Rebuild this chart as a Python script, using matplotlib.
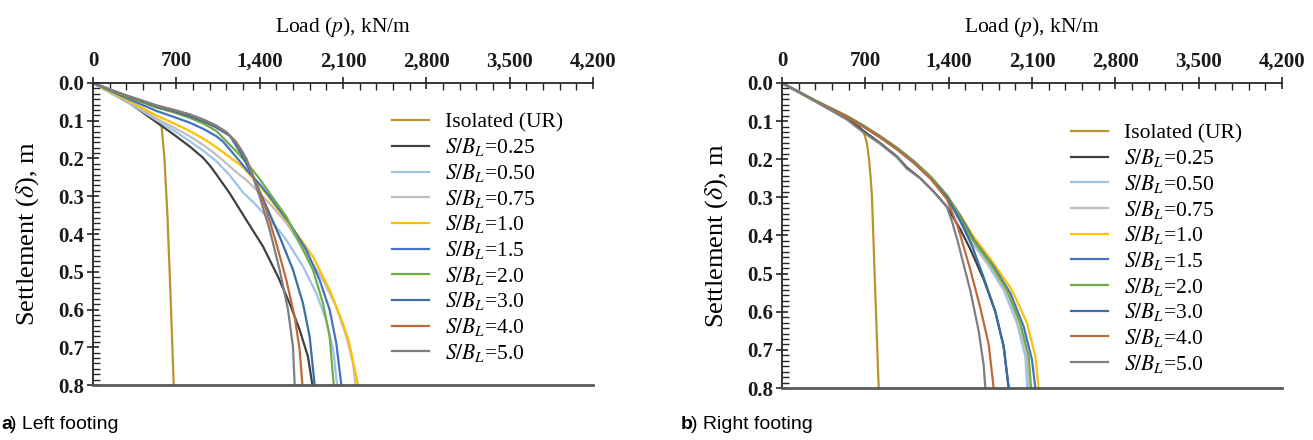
import matplotlib
matplotlib.use("Agg")
import matplotlib.pyplot as plt
from matplotlib.ticker import FuncFormatter, AutoMinorLocator

plt.rcParams['font.family'] = ['Liberation Serif', 'DejaVu Serif']
plt.rcParams['mathtext.fontset'] = 'stix'

labels = ['Isolated (UR)', '$S/B_L$=0.25', '$S/B_L$=0.50', '$S/B_L$=0.75',
          '$S/B_L$=1.0', '$S/B_L$=1.5', '$S/B_L$=2.0', '$S/B_L$=3.0',
          '$S/B_L$=4.0', '$S/B_L$=5.0']
colors = ['#B8952A', '#404040', '#9DC3E6', '#BFBFBF', '#FFC000',
          '#4472C4', '#70AD47', '#3A6EA5', '#C0693A', '#7F7F7F']

# left footing: load p (kN/m), settlement d (m)
left_p = [
    [0, 100, 200, 300, 400, 500, 575, 600, 625, 650, 678],
    [0, 100, 200, 300, 392, 480, 560, 672, 812, 924, 980, 1036, 1148, 1288, 1428, 1554, 1652, 1736, 1806, 1843],
    [0, 100, 300, 532, 680, 812, 930, 1036, 1150, 1260, 1360, 1456, 1544, 1624, 1764, 1876, 1960, 2020, 2050],
    [0, 100, 300, 532, 680, 812, 930, 1036, 1092, 1200, 1290, 1372, 1500, 1624, 1792, 1932, 2044, 2128, 2184, 2205],
    [0, 100, 308, 532, 680, 812, 930, 1036, 1150, 1250, 1372, 1460, 1540, 1708, 1848, 1988, 2100, 2150, 2184, 2226],
    [0, 100, 252, 400, 532, 680, 812, 930, 1036, 1092, 1200, 1316, 1400, 1484, 1652, 1792, 1904, 1988, 2044, 2086],
    [0, 100, 252, 400, 532, 680, 812, 930, 1036, 1092, 1200, 1316, 1400, 1484, 1624, 1736, 1848, 1932, 1988, 2022],
    [0, 100, 252, 400, 532, 680, 812, 930, 1036, 1150, 1250, 1344, 1456, 1568, 1680, 1764, 1820, 1862],
    [0, 100, 252, 400, 532, 680, 812, 930, 1036, 1120, 1200, 1260, 1320, 1372, 1456, 1540, 1624, 1694, 1736, 1759],
    [0, 100, 252, 400, 532, 680, 812, 930, 1036, 1120, 1200, 1288, 1340, 1400, 1484, 1568, 1638, 1680, 1694],
]
left_d = [
    [0, 0.017, 0.034, 0.051, 0.068, 0.088, 0.11, 0.2, 0.35, 0.55, 0.8],
    [0, 0.017, 0.035, 0.052, 0.072, 0.092, 0.110, 0.135, 0.168, 0.198, 0.218, 0.242, 0.292, 0.363, 0.433, 0.513, 0.584, 0.654, 0.725, 0.80],
    [0, 0.018, 0.052, 0.098, 0.126, 0.154, 0.180, 0.207, 0.245, 0.290, 0.320, 0.354, 0.383, 0.416, 0.486, 0.557, 0.630, 0.710, 0.80],
    [0, 0.017, 0.050, 0.094, 0.118, 0.141, 0.165, 0.190, 0.205, 0.235, 0.258, 0.283, 0.325, 0.371, 0.451, 0.522, 0.593, 0.672, 0.743, 0.80],
    [0, 0.016, 0.048, 0.086, 0.107, 0.127, 0.148, 0.170, 0.197, 0.220, 0.262, 0.295, 0.330, 0.398, 0.460, 0.548, 0.637, 0.685, 0.735, 0.80],
    [0, 0.014, 0.036, 0.056, 0.074, 0.090, 0.105, 0.122, 0.141, 0.155, 0.195, 0.239, 0.268, 0.301, 0.372, 0.442, 0.522, 0.601, 0.690, 0.80],
    [0, 0.013, 0.033, 0.050, 0.065, 0.078, 0.092, 0.108, 0.127, 0.145, 0.180, 0.221, 0.254, 0.292, 0.354, 0.424, 0.495, 0.584, 0.672, 0.80],
    [0, 0.012, 0.031, 0.047, 0.062, 0.075, 0.088, 0.102, 0.118, 0.140, 0.190, 0.248, 0.327, 0.407, 0.495, 0.584, 0.672, 0.80],
    [0, 0.012, 0.030, 0.046, 0.060, 0.072, 0.084, 0.098, 0.114, 0.130, 0.155, 0.185, 0.225, 0.270, 0.336, 0.425, 0.522, 0.619, 0.707, 0.80],
    [0, 0.012, 0.030, 0.045, 0.059, 0.071, 0.083, 0.097, 0.113, 0.130, 0.158, 0.200, 0.245, 0.301, 0.389, 0.495, 0.601, 0.699, 0.80],
]

# right footing
right_p = [
    [0, 266, 546, 640, 690, 715, 731, 745, 756, 778, 812],
    [0, 266, 546, 686, 826, 966, 1050, 1162, 1274, 1386, 1500, 1582, 1694, 1792, 1862, 1904],
    [0, 266, 546, 686, 826, 966, 1106, 1246, 1386, 1470, 1554, 1722, 1862, 1974, 2044, 2060],
    [0, 266, 546, 686, 826, 966, 1106, 1246, 1386, 1475, 1560, 1735, 1875, 1988, 2058, 2075],
    [0, 266, 546, 686, 826, 966, 1106, 1246, 1386, 1500, 1610, 1778, 1932, 2058, 2128, 2156],
    [0, 266, 546, 686, 826, 966, 1106, 1246, 1386, 1500, 1610, 1778, 1918, 2030, 2100, 2128],
    [0, 266, 546, 686, 826, 966, 1106, 1246, 1386, 1485, 1582, 1750, 1890, 2002, 2072, 2092],
    [0, 266, 546, 686, 826, 966, 1106, 1246, 1386, 1450, 1520, 1600, 1694, 1792, 1862, 1904],
    [0, 266, 546, 686, 826, 966, 1106, 1246, 1386, 1430, 1480, 1582, 1666, 1736, 1778],
    [0, 266, 546, 686, 826, 966, 1050, 1162, 1274, 1386, 1430, 1480, 1582, 1652, 1694, 1708],
]
right_d = [
    [0, 0.044, 0.090, 0.110, 0.132, 0.160, 0.200, 0.25, 0.30, 0.50, 0.80],
    [0, 0.045, 0.094, 0.126, 0.158, 0.193, 0.222, 0.250, 0.285, 0.325, 0.385, 0.436, 0.515, 0.600, 0.691, 0.80],
    [0, 0.044, 0.088, 0.113, 0.141, 0.172, 0.207, 0.248, 0.298, 0.348, 0.400, 0.473, 0.543, 0.630, 0.717, 0.80],
    [0, 0.044, 0.088, 0.113, 0.141, 0.172, 0.207, 0.248, 0.298, 0.348, 0.400, 0.473, 0.543, 0.630, 0.717, 0.80],
    [0, 0.044, 0.087, 0.112, 0.140, 0.170, 0.205, 0.245, 0.295, 0.347, 0.403, 0.473, 0.543, 0.630, 0.717, 0.80],
    [0, 0.044, 0.087, 0.112, 0.140, 0.170, 0.205, 0.245, 0.295, 0.350, 0.411, 0.481, 0.551, 0.639, 0.726, 0.80],
    [0, 0.044, 0.087, 0.112, 0.140, 0.170, 0.205, 0.245, 0.295, 0.347, 0.403, 0.473, 0.543, 0.630, 0.717, 0.80],
    [0, 0.045, 0.089, 0.115, 0.143, 0.174, 0.209, 0.250, 0.300, 0.335, 0.375, 0.430, 0.510, 0.600, 0.691, 0.80],
    [0, 0.045, 0.089, 0.115, 0.143, 0.174, 0.209, 0.250, 0.305, 0.340, 0.380, 0.490, 0.590, 0.685, 0.80],
    [0, 0.046, 0.096, 0.130, 0.160, 0.195, 0.225, 0.250, 0.285, 0.325, 0.365, 0.420, 0.545, 0.650, 0.740, 0.80],
]

x_ticks = [0, 700, 1400, 2100, 2800, 3500, 4200]
y_ticks = [0.0, 0.1, 0.2, 0.3, 0.4, 0.5, 0.6, 0.7, 0.8]


def SetupAxes(ax):
    ax.set_xlim(0, 4200)
    ax.set_ylim(0.8, 0.0)
    ax.xaxis.tick_top()
    ax.xaxis.set_label_position('top')
    ax.set_xticks(x_ticks)
    ax.set_yticks(y_ticks)
    ax.xaxis.set_major_formatter(FuncFormatter(lambda v, _: f'{int(v):,}'))
    ax.yaxis.set_major_formatter(FuncFormatter(lambda v, _: f'{v:.1f}'))
    ax.xaxis.set_minor_locator(AutoMinorLocator(5))
    ax.yaxis.set_minor_locator(AutoMinorLocator(7))
    ax.tick_params(which='major', direction='inout', length=9, width=1.2,
                   labelsize=15, color='#262626')
    ax.tick_params(axis='x', which='major', pad=4)
    ax.tick_params(axis='y', which='major', pad=2)
    ax.tick_params(which='minor', direction='in', length=5, width=1.0,
                   color='#262626')
    for lab in ax.get_xticklabels() + ax.get_yticklabels():
        lab.set_fontweight('bold')
        lab.set_color('#1a1a1a')
    ax.spines['right'].set_visible(False)
    for s in ['top', 'left']:
        ax.spines[s].set_linewidth(1.3)
        ax.spines[s].set_color('#262626')
    ax.spines['bottom'].set_linewidth(2.0)
    ax.spines['bottom'].set_color('#595959')
    ax.set_xlabel('Load ($p$), kN/m', fontsize=15.5, labelpad=14)
    ax.set_ylabel(r'Settlement ($\delta$), m', fontsize=19, labelpad=12)


fig = plt.figure(figsize=(13.13, 4.4), dpi=100)
axL = fig.add_axes([93 / 1313, 55 / 440, 500 / 1313, 302 / 440])
axR = fig.add_axes([782 / 1313, 52 / 440, 500 / 1313, 305 / 440])

for ax, ps, ds, anchor in [(axL, left_p, left_d, (0.58, 0.93)),
                           (axR, right_p, right_d, (0.56, 0.895))]:
    SetupAxes(ax)
    for i in range(len(labels)):
        ax.plot(ps[i], ds[i], color=colors[i], lw=1.6, label=labels[i])
    ax.legend(loc='upper left', bbox_to_anchor=anchor, frameon=False,
              fontsize=15.5, handlelength=1.75, handletextpad=0.75,
              labelspacing=0.17, borderaxespad=0)

cap = dict(fontsize=14, family='Liberation Sans', va='baseline')
fig.text(1 / 1313, 0.025, 'a', fontweight='bold', ha='left', **cap)
fig.text(10 / 1313, 0.025, ') Left footing', ha='left', **cap)
fig.text(681 / 1313, 0.025, 'b', fontweight='bold', ha='left', **cap)
fig.text(691 / 1313, 0.025, ') Right footing', ha='left', **cap)

fig.savefig('out.png', dpi=100)
